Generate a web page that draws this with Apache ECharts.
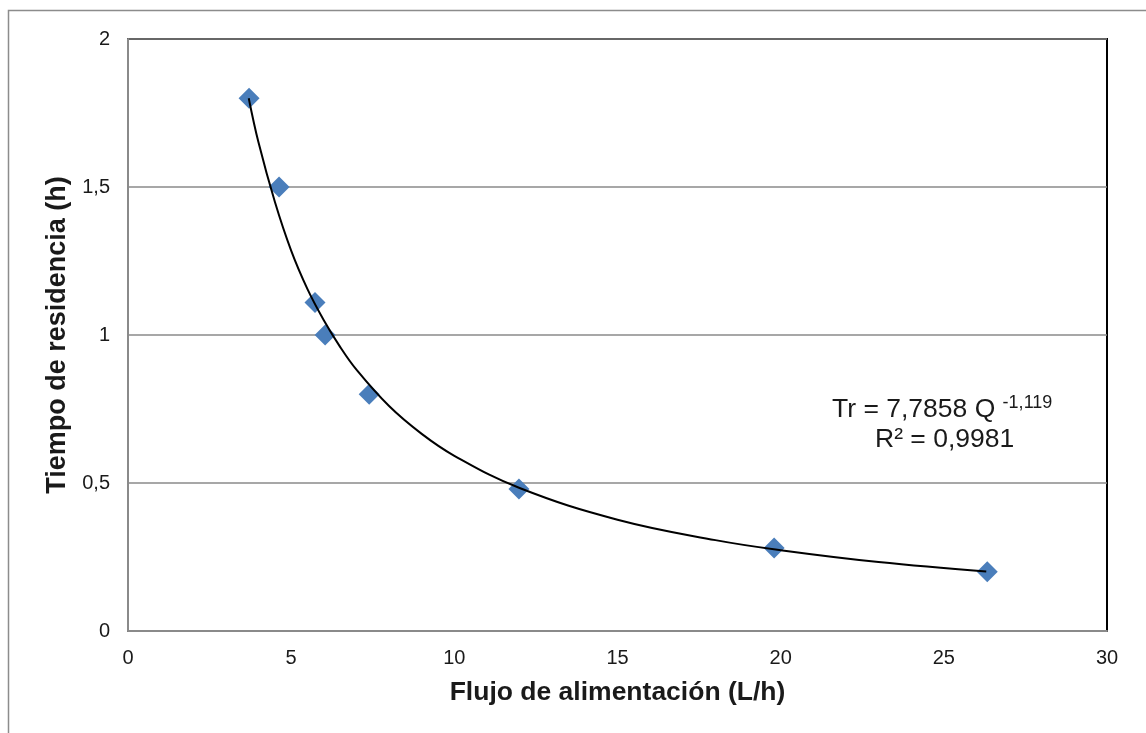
<!DOCTYPE html>
<html><head><meta charset="utf-8">
<script src="https://cdn.jsdelivr.net/npm/echarts@6/dist/echarts.min.js"></script>
<style>html,body{margin:0;padding:0;background:#fff}#c{width:1146px;height:733px}</style>
</head><body><div id="c"></div>
<script>
// Measured data points (Flujo L/h, Tiempo h)
const flujo = [3.71, 4.63, 5.73, 6.04, 7.39, 11.98, 19.80, 26.33];
const tiempo = [1.80, 1.50, 1.11, 1.00, 0.80, 0.48, 0.28, 0.20];
// Trendline points
const curveX = [3.7, 4.0, 4.5, 5.0, 5.5, 6.0, 6.5, 7.0, 8.0, 9.0, 10.0, 12.0, 15.0, 18.0, 20.0, 23.0, 26.3];
const curveY = [1.80, 1.65, 1.45, 1.285, 1.155, 1.05, 0.96, 0.883, 0.76, 0.666, 0.592, 0.483, 0.376, 0.307, 0.273, 0.233, 0.201];
const yTicks = ['0', '0,5', '1', '1,5', '2'];

const chart = echarts.init(document.getElementById('c'));
chart.setOption({
  animation: false,
  backgroundColor: '#fff',
  grid: { left: 128, top: 39, width: 979, height: 592, show: true, borderColor: '#000', borderWidth: 2, backgroundColor: 'transparent' },
  xAxis: {
    type: 'value', min: 0, max: 30, interval: 5,
    name: 'Flujo de alimentación (L/h)', nameLocation: 'middle', nameGap: 48,
    nameTextStyle: { fontFamily: 'Liberation Sans', fontSize: 26.5, fontWeight: 'bold', color: '#1a1a1a' },
    axisLine: { show: true, onZero: false, lineStyle: { color: '#8a8a8a', width: 2 } },
    axisTick: { show: false },
    splitLine: { show: false },
    axisLabel: { fontFamily: 'Liberation Sans', fontSize: 20, color: '#1a1a1a', margin: 17 }
  },
  yAxis: {
    type: 'value', min: 0, max: 2, interval: 0.5,
    name: 'Tiempo de residencia (h)', nameLocation: 'middle', nameGap: 55, nameRotate: 90,
    nameTextStyle: { fontFamily: 'Liberation Sans', fontSize: 27, fontWeight: 'bold', color: '#1a1a1a' },
    axisLine: { show: true, onZero: false, lineStyle: { color: '#8a8a8a', width: 2 } },
    axisTick: { show: false },
    splitLine: { show: true, lineStyle: { color: '#8a8a8a', width: 1.5 } },
    axisLabel: { fontFamily: 'Liberation Sans', fontSize: 20, color: '#1a1a1a', margin: 18,
      formatter: v => yTicks[Math.round(v / 0.5)] }
  },
  series: [
    {
      type: 'line', data: curveX.map((x, i) => [x, curveY[i]]), smooth: 0.4, showSymbol: false,
      lineStyle: { color: '#000', width: 2 }, z: 3
    },
    {
      type: 'scatter', data: flujo.map((x, i) => [x, tiempo[i]]), symbol: 'diamond', symbolSize: [21, 21],
      itemStyle: { color: '#4a7ebb', opacity: 1 }, emphasis: { disabled: true }, z: 2
    }
  ],
  graphic: [
    { type: 'rect', shape: { x: 8.5, y: 10.5, width: 1200, height: 800 }, style: { fill: 'none', stroke: '#8c8c8c', lineWidth: 1.5 }, z: -1 },
    { type: 'text', left: 832, top: 394, style: {
        rich: { a: { fontFamily: 'Liberation Sans', fontSize: 26.5, fill: '#1a1a1a' },
                s: { fontFamily: 'Liberation Sans', fontSize: 18, fill: '#1a1a1a', verticalAlign: 'top', padding: [0,0,14,0] } },
        text: '{a|Tr = 7,7858 Q }{s|-1,119}' } },
    { type: 'text', left: 875, top: 426, style: { text: 'R² = 0,9981', fontFamily: 'Liberation Sans', fontSize: 26.5, fill: '#1a1a1a' } }
  ]
});
</script></body></html>
